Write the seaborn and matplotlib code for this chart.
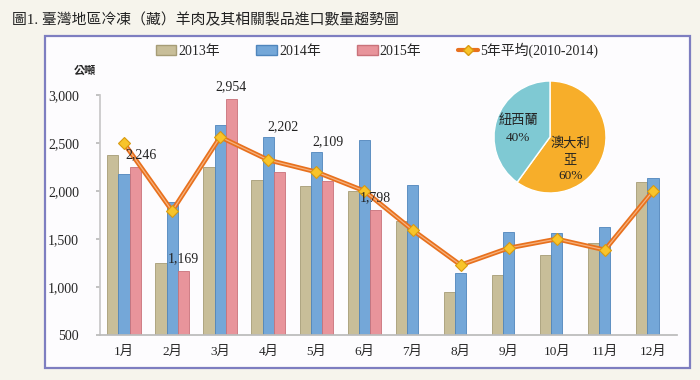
import numpy as np
import pandas as pd
import matplotlib
matplotlib.use('Agg')
import matplotlib.pyplot as plt
import seaborn as sns
from matplotlib.patches import Patch, Rectangle
from matplotlib.lines import Line2D

# data
months = ['1月', '2月', '3月', '4月', '5月', '6月', '7月', '8月', '9月', '10月', '11月', '12月']
y2013 = [2370, 1250, 2245, 2115, 2050, 2000, 1690, 948, 1125, 1333, 1458, 2094]
y2014 = [2175, 1885, 2688, 2563, 2407, 2532, 2063, 1146, 1573, 1563, 1625, 2136]
y2015 = [2246, 1169, 2954, 2202, 2109, 1798, np.nan, np.nan, np.nan, np.nan, np.nan, np.nan]
avg5 = [2497, 1792, 2563, 2323, 2198, 2000, 1594, 1229, 1406, 1500, 1386, 2000]
series_names = ['2013年', '2014年', '2015年']
avg_name = '5年平均(2010-2014)'

pie_names = ['澳大利\n亞', '紐西蘭']
pie_share = [60, 40]

# label offsets for the 2015 values
lab_dx = [0.13, 0.0, 0.0, 0.08, 0.0, 0.0]
lab_dy = [130, 130, 130, 470, 400, 130]

bar_colors = ['#C8BE99', '#74A7D8', '#E8949B']
edge_colors = ['#A69C76', '#4F85BC', '#C9727A']
line_color = '#E8711E'

sns.set_theme(style='white')
plt.rcParams['font.family'] = ['Liberation Serif', 'Noto Sans CJK TC']

df = pd.DataFrame({
    'month': months * 3,
    'year': np.repeat(series_names, 12),
    'value': y2013 + y2014 + y2015,
})

fig = plt.figure(figsize=(7, 3.8), dpi=100)
fig.patch.set_facecolor('#F6F4EC')
fig.patches.append(Rectangle((45 / 700, 1 - 368 / 380), 645 / 700, 332 / 380,
                             transform=fig.transFigure, facecolor='#FDFCFE',
                             edgecolor='#7E7EC0', lw=1.6, zorder=-5))

fig.text(12 / 700, 1 - 20 / 380, '圖1. 臺灣地區冷凍（藏）羊肉及其相關製品進口數量趨勢圖',
         fontsize=10.7, va='center', ha='left', color='#222222')

ax = fig.add_axes([100 / 700, 1 - 335 / 380, 577 / 700, 240 / 380])
ax.set_facecolor('none')

sns.barplot(data=df, x='month', y='value', hue='year', palette=bar_colors,
            width=0.7, ax=ax, legend=False, saturation=1)
for i, cont in enumerate(ax.containers):
    for bar in cont:
        bar.set_edgecolor(edge_colors[i])
        bar.set_linewidth(0.6)

xs = np.arange(len(months))
ax.plot(xs, avg5, color=line_color, lw=3.4, zorder=5, solid_capstyle='round')
ax.plot(xs, avg5, color='#F6B27E', lw=0.9, zorder=6)
ax.plot(xs, avg5, ls='none', marker='D', ms=6.5, markerfacecolor='#F8C42A',
        markeredgecolor='#D99A10', markeredgewidth=0.8, zorder=7)

# 2015 value labels
for i, v in enumerate(y2015):
    if np.isnan(v):
        continue
    ax.text(i + 0.233 + lab_dx[i], v + lab_dy[i], f'{int(v):,}', ha='center',
            va='center', fontsize=10, color='#222222', zorder=8)

ax.set_ylim(500, 3000)
ax.set_xlim(-0.5, 11.5)
ax.set_yticks([500, 1000, 1500, 2000, 2500, 3000])
ax.set_yticklabels([f'{t:,}' for t in [500, 1000, 1500, 2000, 2500, 3000]], fontsize=10)
ax.set_xticks(xs)
ax.set_xticklabels(months, fontsize=9.5)
ax.set_xticks(np.arange(-0.5, 12, 1), minor=True)
ax.tick_params(axis='x', which='major', length=0, pad=8)
ax.tick_params(axis='x', which='minor', length=4, color='#BBBBBB', direction='in')
ax.tick_params(axis='y', length=3, color='#BBBBBB', left=True, pad=12)
ax.set_xlabel('')
ax.set_ylabel('')
for s in ['top', 'right']:
    ax.spines[s].set_visible(False)
ax.spines['left'].set_color('#C8C8C8')
ax.spines['bottom'].set_color('#BBBBBB')

fig.text(85 / 700, 1 - 71 / 380, '公噸', fontsize=8, fontweight='bold',
         ha='center', va='center')

handles = [Patch(facecolor=bar_colors[i], edgecolor=edge_colors[i], label=series_names[i])
           for i in range(3)]
handles.append(Line2D([0], [0], color=line_color, lw=3, marker='D', ms=5,
                      markerfacecolor='#F8C42A', markeredgecolor='#D99A10',
                      label=avg_name))
fig.legend(handles=handles, loc='center', bbox_to_anchor=(377 / 700, 1 - 50 / 380),
           ncol=4, frameon=False, fontsize=10, columnspacing=2.6, handlelength=1.5,
           handletextpad=0.15)

# pie inset
pax = fig.add_axes([480 / 700, 1 - 207 / 380, 140 / 700, 140 / 380])
pax.pie(pie_share, colors=['#F7AE2A', '#7FC9D3'], startangle=90, counterclock=False)
pax.set_aspect('equal')
pie_pos = [(0.36, -0.40), (-0.57, 0.14)]
for name, share, (px, py) in zip(pie_names, pie_share, pie_pos):
    pax.text(px, py, f'{name}\n{share}%', ha='center', va='center', fontsize=9.5,
             color='#222222', linespacing=1.5, multialignment='center')

fig.savefig('out.png', dpi=100, facecolor=fig.get_facecolor())
